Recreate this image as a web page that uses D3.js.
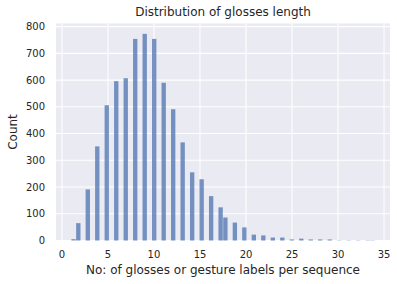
<!DOCTYPE html>
<html>
<head>
<meta charset="utf-8">
<script src="https://cdn.jsdelivr.net/npm/d3@7"></script>
<style>
  body { margin: 0; background: #fff; }
  text { font-family: "DejaVu Sans", sans-serif; fill: #262626; }
</style>
</head>
<body>
<div id="chart"></div>
<script>
// number of glosses per sequence and how many sequences have that length
const lengths = [1, 2, 3, 4, 5, 6, 7, 8, 9, 10, 11, 12, 13, 14, 15, 16, 17,
    18, 19, 20, 21, 22, 23, 24, 25, 26, 27, 28, 29, 30, 31, 32, 33, 34];
const counts = [5, 65, 191, 352, 506, 596, 607, 754, 773, 754, 590, 491, 367,
    255, 229, 166, 124, 86, 67, 49, 22, 19, 11, 11, 4, 7, 4, 4, 4, 1, 1, 1, 1, 1];
const xTicks = [0, 5, 10, 15, 20, 25, 30, 35];
const yTicks = [0, 100, 200, 300, 400, 500, 600, 700, 800];

class Histogram {
    constructor(opts) {
        this.element = opts.element;
        this.lengths = opts.lengths;
        this.counts = opts.counts;
        this.nBins = 64;
        this.draw();
    }

    draw() {
        this.width = 397;
        this.height = 284;
        this.svg = this.element.append("svg")
            .attr("width", this.width)
            .attr("height", this.height);

        const lo = d3.min(this.lengths), hi = d3.max(this.lengths);
        const pad = (hi - lo) * 0.05;
        this.x = d3.scaleLinear().domain([lo - pad, hi + pad]).range([56, 390]);
        this.y = d3.scaleLinear().domain([0, d3.max(this.counts) * 1.05]).range([240.5, 23.5]);

        // grey background + white grid first, bars on top
        this.svg.append("rect")
            .attr("x", 56).attr("y", 23.5)
            .attr("width", 334).attr("height", 217)
            .attr("fill", "#eaeaf2");

        this.addGrid(xTicks, yTicks);
        this.addBars(lo, hi);
        this.addLabels();
    }

    addGrid(xs, ys) {
        const g = this.svg.append("g").attr("class", "grid");
        g.selectAll(".vx").data(xs).enter().append("line")
            .attr("x1", d => this.x(d)).attr("x2", d => this.x(d))
            .attr("y1", 23.5).attr("y2", 240.5)
            .attr("stroke", "#fff").attr("stroke-width", 1.1);
        g.selectAll(".hy").data(ys).enter().append("line")
            .attr("x1", 56).attr("x2", 390)
            .attr("y1", d => this.y(d)).attr("y2", d => this.y(d))
            .attr("stroke", "#fff").attr("stroke-width", 1.1);

        // tick labels
        this.svg.append("g").selectAll("text").data(xs).enter().append("text")
            .attr("x", d => this.x(d)).attr("y", 258)
            .attr("text-anchor", "middle").attr("font-size", 10)
            .text(d => d);
        this.svg.append("g").selectAll("text").data(ys).enter().append("text")
            .attr("x", 45).attr("y", d => this.y(d) + 3.6)
            .attr("text-anchor", "end").attr("font-size", 10)
            .text(d => d);
    }

    addBars(lo, hi) {
        // same 64 equal bins numpy would pick over [lo, hi]
        const binW = (hi - lo) / this.nBins;
        const bars = this.lengths.map((k, i) => {
            const idx = Math.min(this.nBins - 1, Math.floor((k - lo) / binW));
            return { x0: lo + idx * binW, x1: lo + (idx + 1) * binW, n: this.counts[i] };
        });
        this.svg.append("g").selectAll("rect").data(bars).enter().append("rect")
            .attr("x", d => this.x(d.x0) + 0.2)
            .attr("width", d => this.x(d.x1) - this.x(d.x0) - 0.4)
            .attr("y", d => this.y(d.n))
            .attr("height", d => this.y(0) - this.y(d.n))
            .attr("fill", "#4c72b0")
            .attr("fill-opacity", 0.75);
    }

    addLabels() {
        this.svg.append("text")
            .attr("x", 223).attr("y", 16)
            .attr("text-anchor", "middle").attr("font-size", 12)
            .text("Distribution of glosses length");
        this.svg.append("text")
            .attr("x", 223).attr("y", 274)
            .attr("text-anchor", "middle").attr("font-size", 12)
            .text("No: of glosses or gesture labels per sequence");
        this.svg.append("text")
            .attr("transform", "translate(17,132) rotate(-90)")
            .attr("text-anchor", "middle").attr("font-size", 12)
            .text("Count");
    }
}

const chart = new Histogram({
    element: d3.select("#chart"),
    lengths: lengths,
    counts: counts
});
</script>
</body>
</html>
